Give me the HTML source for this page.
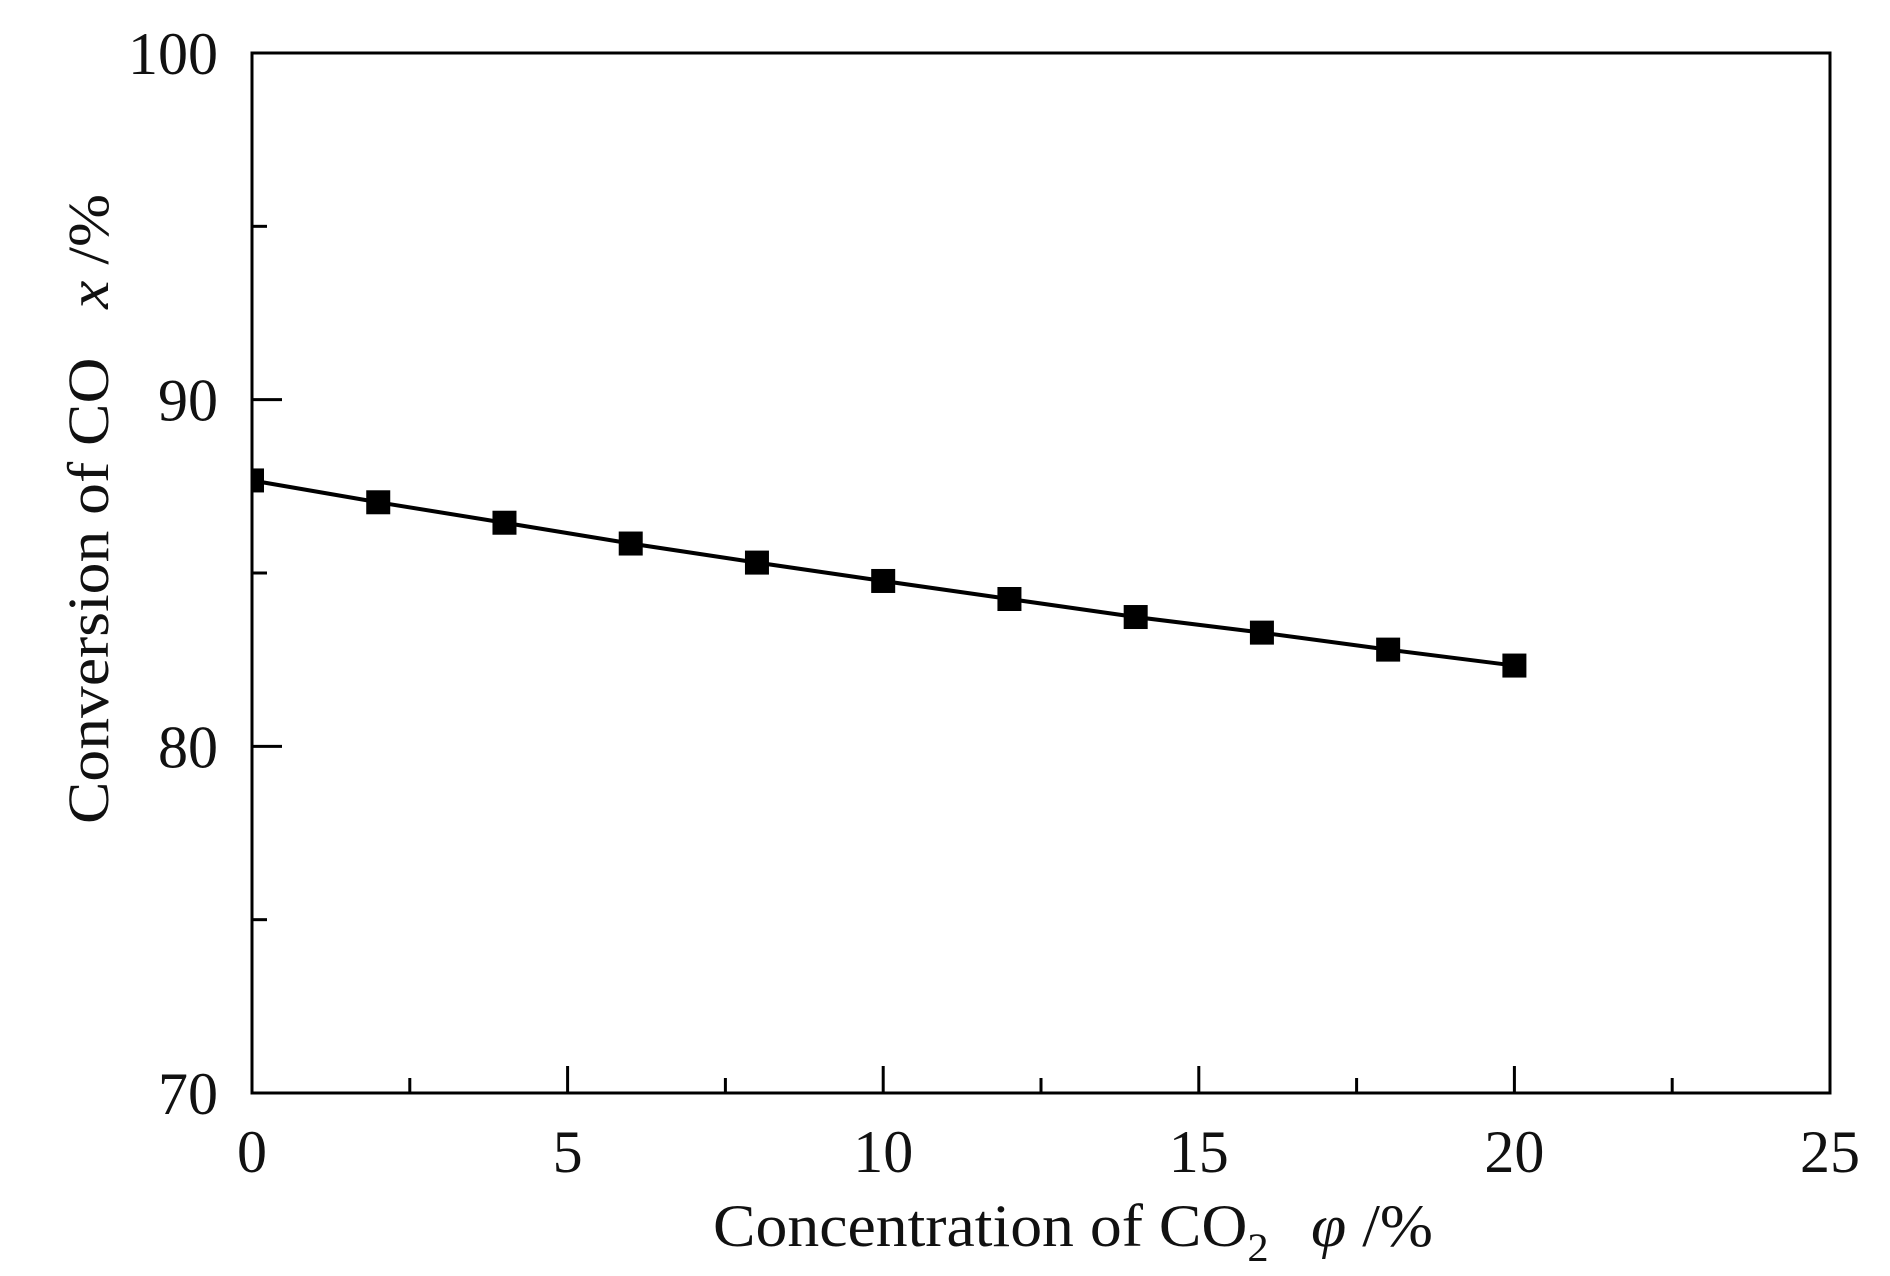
<!DOCTYPE html>
<html><head><meta charset="utf-8"><style>html,body{margin:0;padding:0;background:#fff}svg{display:block}text{font-family:"Liberation Serif",serif;fill:#111}</style></head>
<body>
<svg id="chart" width="1890" height="1276" viewBox="0 0 1890 1276" xmlns="http://www.w3.org/2000/svg">
<defs><clipPath id="plotclip"><rect x="252" y="53" width="1578" height="1040"/></clipPath></defs>
<rect x="0" y="0" width="1890" height="1276" fill="#fff"/>
<g id="series" clip-path="url(#plotclip)"></g>
<rect x="252" y="53" width="1578" height="1040" fill="none" stroke="#000" stroke-width="3"/>
<g id="axes"></g>
<text x="1073" y="1246" font-size="60" text-anchor="middle" textLength="720" lengthAdjust="spacingAndGlyphs">Concentration of CO<tspan font-size="40" dy="15">2</tspan><tspan dy="-15" dx="40" font-style="italic">φ</tspan><tspan> /%</tspan></text>
<text transform="translate(108,509) rotate(-90)" x="0" y="0" font-size="58" text-anchor="middle" textLength="630" lengthAdjust="spacingAndGlyphs">Conversion of CO <tspan dx="30" font-style="italic">x</tspan> /%</text>
</svg>
<script>
const xs = [0, 2, 4, 6, 8, 10, 12, 14, 16, 18, 20];
const conv = [87.67, 87.04, 86.45, 85.85, 85.30, 84.77, 84.25, 83.73, 83.28, 82.79, 82.33];
const xTicks = [0, 5, 10, 15, 20, 25];
const xMinor = [2.5, 7.5, 12.5, 17.5, 22.5];
const yTicks = [70, 80, 90, 100];
const yMinor = [75, 85, 95];
const NS = 'http://www.w3.org/2000/svg';
const L = 252, R = 1830, T = 53, B = 1093;
function sx(v){ return L + (v - 0) / 25 * (R - L); }
function sy(v){ return B - (v - 70) / 30 * (B - T); }
function mk(tag, attrs, parent){ const e = document.createElementNS(NS, tag); for (const k in attrs) e.setAttribute(k, attrs[k]); parent.appendChild(e); return e; }
const axes = document.getElementById('axes');
const series = document.getElementById('series');
xTicks.forEach(v => {
  const t = mk('line', {x1: sx(v), x2: sx(v), y1: B, y2: B - 27, stroke: '#000', 'stroke-width': 3}, axes);
  
  
  const lb = mk('text', {x: sx(v), y: 1172, 'font-size': 60, 'text-anchor': 'middle'}, axes);
  lb.textContent = v;
  
  
});
xMinor.forEach(v => {
  const t = mk('line', {x1: sx(v), x2: sx(v), y1: B, y2: B - 15, stroke: '#000', 'stroke-width': 3}, axes);
  
  
});
yTicks.forEach(v => {
  const t = mk('line', {x1: L, x2: L + 30, y1: sy(v), y2: sy(v), stroke: '#000', 'stroke-width': 3}, axes);
  
  
  const lb = mk('text', {x: 218, y: sy(v) + 21, 'font-size': 60, 'text-anchor': 'end'}, axes);
  lb.textContent = v;
  
  
});
yMinor.forEach(v => {
  const t = mk('line', {x1: L, x2: L + 15, y1: sy(v), y2: sy(v), stroke: '#000', 'stroke-width': 3}, axes);
  
  
});
const pts = xs.map((x, i) => sx(x) + ',' + sy(conv[i])).join(' ');
const line = mk('polyline', {points: pts, fill: 'none', stroke: '#000', 'stroke-width': 4}, series);


xs.forEach((x, i) => {
  const m = mk('rect', {x: sx(x) - 12, y: sy(conv[i]) - 12, width: 24, height: 24, fill: '#000'}, series);
  
  
});
</script>
</body></html>
